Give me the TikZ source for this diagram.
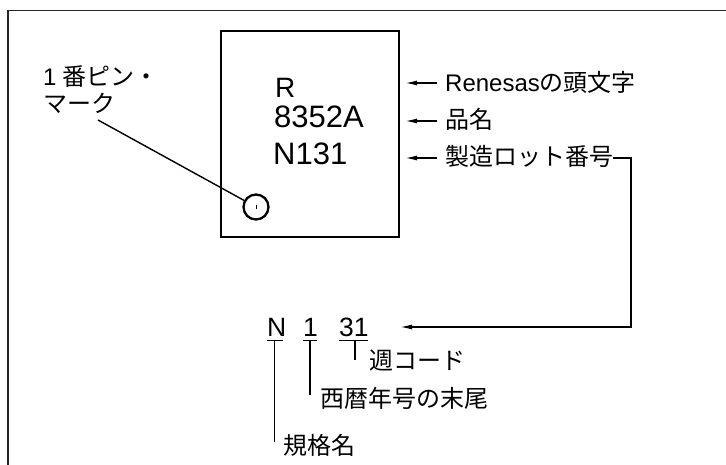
\documentclass[tikz,border=0pt]{standalone}
\usepackage{fontspec}
\setmainfont{Liberation Sans}
\newfontfamily\jp{Noto Sans CJK JP}
\usetikzlibrary{arrows.meta}
\begin{document}
\begin{tikzpicture}[x=1pt,y=-1pt,
  lbl/.style={anchor=base west,inner sep=0pt,font=\fontsize{24}{28}\selectfont},
  chiptxt/.style={anchor=base west,inner sep=0pt,font=\fontsize{31}{36}\selectfont},
  code/.style={anchor=base west,inner sep=0pt,font=\fontsize{26.5}{30}\selectfont},
  thin/.style={line width=1.4pt},
  arr/.style={thin,-{Latex[length=12pt,width=5pt]}}]
\useasboundingbox (0,0) rectangle (726,465);
% frame (top and left edges)
\draw[line width=1.5pt,black!85] (8,465) -- (8,10.5) -- (726,10.5);
% chip
\node[draw,line width=2.8pt,minimum width=178pt,minimum height=206pt,inner sep=0pt] (chip) at (310,134) {};
\node[chiptxt,font=\fontsize{28}{32}\selectfont] (tR) at (275,98) {R};
\node[chiptxt] (tP) at (274,128) {8352A};
\node[chiptxt] (tL) at (273,165) {N131};
\node[draw,circle,line width=2.3pt,minimum size=25pt,inner sep=0pt] (mark) at (256,207) {};
\draw[line width=0.8pt] (256,205) -- (256,209);
% pin 1 label
\node[lbl] (pin1) at (43,86) {1\hspace{6pt}{\jp 番ピン・}};
\node[lbl] (pin2) at (43,113) {\jp マーク};
\coordinate (pinlead) at (98,120);
\draw[thin] (pinlead) -- (mark);
% right labels
\node[lbl] (lR) at (445,92) {Renesas{\jp の頭文字}};
\node[lbl] (lP) at (445,129) {\jp 品名};
\node[lbl] (lL) at (445,166) {\jp 製造ロット番号};
\coordinate (aR) at (405,83);
\coordinate (aP) at (405,121);
\coordinate (aL) at (405,158);
\draw[arr] (437,83) -- (aR);
\draw[arr] (437,121) -- (aP);
\draw[arr] (437,158) -- (aL);
% lot code breakdown
\node[code] (cN) at (267,337) {N};
\node[code] (c1) at (303,337) {1};
\node[code] (c31) at (339,337) {31};
\coordinate (lotR) at (631,158);
\coordinate (tip) at (400,327);
\draw[arr] (lL.east |- aL) -- (lotR) -- (lotR |- tip) -- (tip);
\draw[thin] (267,340.5) -- (283,340.5);
\draw[thin] (303,340.5) -- (317,340.5);
\draw[thin] (339,340.5) -- (368,340.5);
\draw[thin] (274.5,340.5) -- (274.5,442);
\draw[thin] (310,340.5) -- (310,395);
\draw[thin] (355,340.5) -- (355,360);
\node[lbl] (wk) at (369,369) {\jp 週コード};
\node[lbl] (yr) at (320,407) {\jp 西暦年号の末尾};
\node[lbl] (st) at (283,454) {\jp 規格名};
\end{tikzpicture}
\end{document}
